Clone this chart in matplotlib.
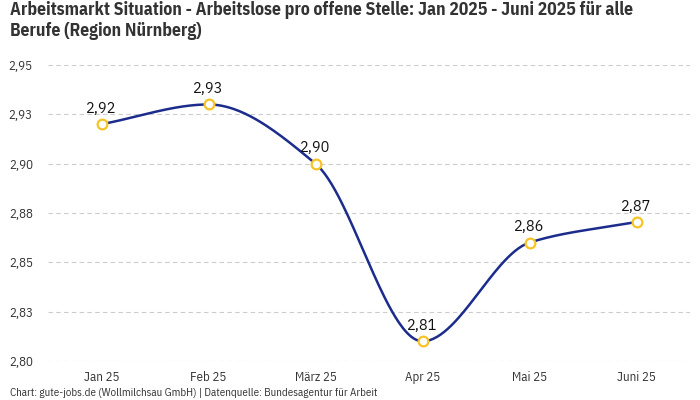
import numpy as np
import matplotlib
matplotlib.use("Agg")
import matplotlib.pyplot as plt

months = ["Jan 25", "Feb 25", "März 25", "Apr 25", "Mai 25", "Juni 25"]
values = [2.920, 2.930, 2.900, 2.810, 2.860, 2.8705]
y_ticks = [2.80, 2.825, 2.85, 2.875, 2.90, 2.925, 2.95]

FONT = ["IBM Plex Sans Condensed", "DejaVu Sans"]
LABEL_FONT = ["IBM Plex Sans", "DejaVu Sans"]


def pchip(x, y, n=60):
    # monotone cubic interpolation (Fritsch-Carlson), only for drawing the curve
    x = np.asarray(x, float)
    y = np.asarray(y, float)
    h = np.diff(x)
    d = np.diff(y) / h
    m = np.zeros_like(y)
    m[0], m[-1] = d[0], d[-1]
    for i in range(1, len(y) - 1):
        if d[i - 1] * d[i] <= 0:
            m[i] = 0
        else:
            m[i] = 2 / (1 / d[i - 1] + 1 / d[i])
    xs, ys = [], []
    for i in range(len(x) - 1):
        t = np.linspace(0, 1, n)
        h00 = 2 * t**3 - 3 * t**2 + 1
        h10 = t**3 - 2 * t**2 + t
        h01 = -2 * t**3 + 3 * t**2
        h11 = t**3 - t**2
        xs.append(x[i] + t * h[i])
        ys.append(h00 * y[i] + h10 * h[i] * m[i] + h01 * y[i + 1] + h11 * h[i] * m[i + 1])
    return np.concatenate(xs), np.concatenate(ys)


fig = plt.figure(figsize=(7, 4), dpi=100)
ax = fig.add_axes([48 / 700, 39 / 400, 642 / 700, 296 / 400])

x = np.arange(len(months))
cx, cy = pchip(x, values)
ax.plot(cx, cy, color="#1c2c8c", lw=1.8, zorder=3)
ax.plot(x, values, "o", ms=7, mfc="white", mec="#f7c325", mew=1.6, zorder=4)

for xi, v in zip(x, values):
    ax.annotate(f"{v:.2f}".replace(".", ","), (xi, v), xytext=(0, 6),
                textcoords="offset points", ha="center", va="bottom",
                fontsize=10.5, color="#111111", family=LABEL_FONT, fontweight="medium")

ax.set_xlim(-0.5, len(months) - 0.5)
ax.set_ylim(2.80, 2.95)
ax.set_yticks(y_ticks)
ax.set_yticklabels([f"{round(v + 1e-9, 2):.2f}".replace(".", ",") for v in y_ticks])
ax.set_xticks(x)
ax.set_xticklabels(months)
ax.tick_params(length=0, labelsize=9.3, colors="#333333")
ax.tick_params(axis="y", pad=11)
ax.tick_params(axis="x", pad=7)
for lab in ax.get_xticklabels() + ax.get_yticklabels():
    lab.set_family(FONT)
    lab.set_fontstretch("condensed")
ax.yaxis.grid(True, color="#cccccc", ls=(0, (4, 3)), lw=0.8)
for s in ax.spines.values():
    s.set_visible(False)

fig.text(10 / 700, 1 - 1 / 400, "Arbeitsmarkt Situation - Arbeitslose pro offene Stelle: Jan 2025 - Juni 2025 für alle\nBerufe (Region Nürnberg)",
         ha="left", va="top", fontsize=12.7, fontweight="bold", color="#333333",
         family=FONT, fontstretch="condensed", linespacing=1.25)
fig.text(10 / 700, 1 - 393 / 400, "Chart: gute-jobs.de (Wollmilchsau GmbH) | Datenquelle: Bundesagentur für Arbeit",
         ha="left", va="center", fontsize=7.9, color="#333333", family=FONT, fontstretch="condensed")

fig.savefig("out.png", dpi=100)
